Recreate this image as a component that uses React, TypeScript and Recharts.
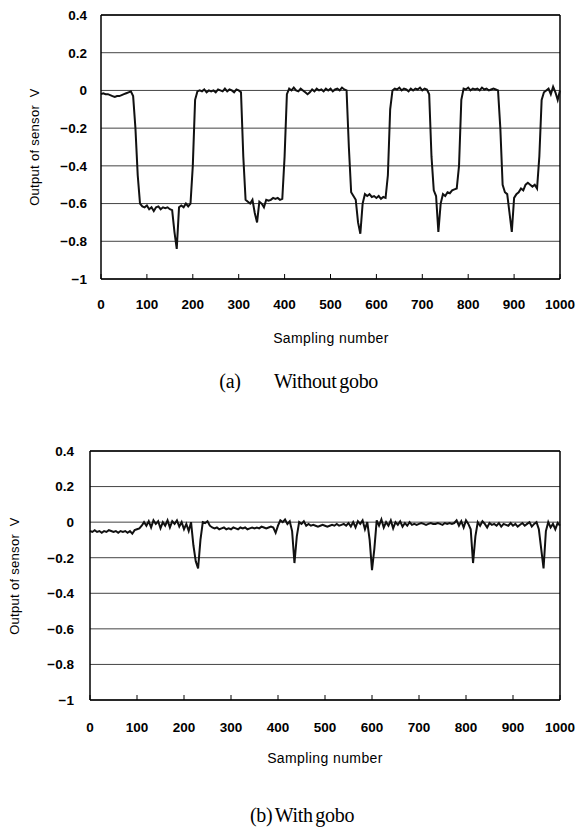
import React from "react";
import {
  LineChart, Line, XAxis, YAxis, CartesianGrid, ReferenceLine,
} from "recharts";

// sampling numbers (every 5th sample)
const samples = [
  0, 5, 10, 15, 20, 25, 30, 35, 40, 45, 50, 55, 60, 65, 70, 75, 80, 85, 90, 95,
  100, 105, 110, 115, 120, 125, 130, 135, 140, 145, 150, 155, 160, 165, 170, 175, 180, 185, 190, 195,
  200, 205, 210, 215, 220, 225, 230, 235, 240, 245, 250, 255, 260, 265, 270, 275, 280, 285, 290, 295,
  300, 305, 310, 315, 320, 325, 330, 335, 340, 345, 350, 355, 360, 365, 370, 375, 380, 385, 390, 395,
  400, 405, 410, 415, 420, 425, 430, 435, 440, 445, 450, 455, 460, 465, 470, 475, 480, 485, 490, 495,
  500, 505, 510, 515, 520, 525, 530, 535, 540, 545, 550, 555, 560, 565, 570, 575, 580, 585, 590, 595,
  600, 605, 610, 615, 620, 625, 630, 635, 640, 645, 650, 655, 660, 665, 670, 675, 680, 685, 690, 695,
  700, 705, 710, 715, 720, 725, 730, 735, 740, 745, 750, 755, 760, 765, 770, 775, 780, 785, 790, 795,
  800, 805, 810, 815, 820, 825, 830, 835, 840, 845, 850, 855, 860, 865, 870, 875, 880, 885, 890, 895,
  900, 905, 910, 915, 920, 925, 930, 935, 940, 945, 950, 955, 960, 965, 970, 975, 980, 985, 990, 995,
  1000,
];

// (a) without gobo
const withoutGobo = [
  -0.02, -0.015, -0.02, -0.02, -0.025, -0.03, -0.035, -0.03, -0.03, -0.025, -0.02, -0.015, -0.01, -0.005, -0.03, -0.2, -0.45, -0.6, -0.615, -0.62,
  -0.61, -0.63, -0.62, -0.64, -0.62, -0.615, -0.63, -0.62, -0.625, -0.62, -0.63, -0.635, -0.75, -0.84, -0.62, -0.61, -0.62, -0.6, -0.615, -0.6,
  -0.4, -0.05, -0.005, 0, -0.005, 0.005, -0.01, 0, -0.005, 0, -0.01, 0.005, 0, -0.005, 0.01, -0.005, 0.005, 0, -0.01, 0.005,
  0, -0.01, -0.35, -0.58, -0.59, -0.6, -0.58, -0.65, -0.7, -0.59, -0.6, -0.62, -0.58, -0.585, -0.58, -0.57, -0.575, -0.57, -0.58, -0.575,
  -0.35, -0.02, 0.01, 0, 0.015, 0, -0.005, 0.01, 0, -0.01, -0.02, -0.01, 0.005, -0.005, 0.01, 0, 0.005, -0.005, 0.01, 0,
  0.01, -0.005, 0.005, 0.01, 0, 0.015, 0.005, 0, -0.3, -0.54, -0.56, -0.58, -0.7, -0.76, -0.6, -0.55, -0.56, -0.55, -0.565, -0.56,
  -0.57, -0.56, -0.575, -0.565, -0.57, -0.45, -0.1, 0, 0.01, 0.005, 0.015, 0, 0.01, 0.005, -0.005, 0.01, 0, 0.01, 0.005, 0.015,
  0, 0.01, 0.005, -0.02, -0.35, -0.53, -0.56, -0.75, -0.6, -0.55, -0.56, -0.54, -0.545, -0.53, -0.525, -0.52, -0.4, -0.05, 0.01, 0.005,
  0.015, 0, 0.01, 0.005, 0.01, 0, 0.015, 0.005, 0.01, 0, 0.005, 0.01, 0.005, 0, -0.2, -0.5, -0.54, -0.55, -0.65, -0.75,
  -0.57, -0.55, -0.54, -0.52, -0.53, -0.5, -0.49, -0.5, -0.51, -0.5, -0.52, -0.35, -0.05, -0.01, 0, 0.01, -0.02, 0.02, -0.01, -0.05,
  0,
];

// (b) with gobo
const withGobo = [
  -0.05, -0.055, -0.045, -0.055, -0.05, -0.06, -0.05, -0.055, -0.045, -0.05, -0.055, -0.05, -0.06, -0.05, -0.055, -0.05, -0.06, -0.05, -0.065, -0.045,
  -0.04, -0.035, -0.02, 0, -0.02, 0.005, -0.03, 0.01, -0.01, 0.005, -0.035, 0, -0.02, 0.01, -0.03, 0.005, -0.01, 0.01, -0.025, 0,
  -0.04, -0.01, -0.05, 0, -0.13, -0.22, -0.26, -0.1, 0, -0.005, 0.005, -0.02, -0.03, -0.035, -0.03, -0.04, -0.035, -0.03, -0.04, -0.035,
  -0.04, -0.03, -0.035, -0.04, -0.03, -0.035, -0.03, -0.04, -0.035, -0.03, -0.035, -0.03, -0.035, -0.025, -0.03, -0.035, -0.03, -0.025, -0.03, -0.06,
  -0.02, 0.01, 0, 0.015, -0.01, 0.005, -0.05, -0.23, -0.08, 0, -0.01, 0.005, -0.02, -0.01, -0.02, -0.015, -0.02, -0.025, -0.02, -0.015,
  -0.02, -0.025, -0.02, -0.015, -0.02, -0.01, -0.02, -0.015, -0.01, -0.02, -0.005, -0.025, 0, -0.03, 0.005, -0.01, 0.01, -0.04, 0, -0.1,
  -0.27, -0.15, 0.01, -0.02, 0.015, -0.03, 0, -0.02, 0.01, -0.035, 0, -0.015, 0.005, -0.025, -0.005, -0.02, 0, -0.015, -0.01, -0.015,
  -0.01, -0.005, -0.01, -0.015, -0.01, -0.005, -0.01, -0.01, -0.005, -0.01, -0.015, -0.005, -0.01, -0.005, -0.01, -0.005, 0.01, -0.02, 0.005, -0.03,
  0.01, -0.01, -0.04, -0.23, -0.08, 0, -0.02, 0.005, -0.01, -0.03, -0.005, -0.015, -0.01, -0.02, -0.005, -0.025, -0.01, -0.015, -0.02, -0.005,
  -0.02, -0.01, -0.025, -0.015, -0.005, -0.02, -0.01, 0, -0.025, -0.01, 0, -0.04, -0.15, -0.26, -0.05, 0, -0.03, -0.01, -0.04, -0.005,
  -0.02,
];

const xTicks = [0, 100, 200, 300, 400, 500, 600, 700, 800, 900, 1000];
const yTicks = [-1, -0.8, -0.6, -0.4, -0.2, 0, 0.2, 0.4];
const yTickLabels = ["\u22121", "\u22120.8", "\u22120.6", "\u22120.4", "\u22120.2", "0", "0.2", "0.4"];

const tickStyle = {
  fill: "#000",
  fontSize: 13.5,
  fontWeight: "bold",
  fontFamily: "'Liberation Sans', Arial, sans-serif",
};

interface PanelProps {
  values: number[];
  top: number;
  height: number;
  marginTop: number;
  marginLeft: number;
  marginBottom: number;
  yTickMargin: number;
  xTickMargin: number;
}

function Panel({ values, top, height, marginTop, marginLeft, marginBottom, yTickMargin, xTickMargin }: PanelProps) {
  const rows = samples.map((s, i) => ({ s, v: values[i] }));
  return (
    <div style={{ position: "absolute", left: 0, top }}>
      <LineChart
        width={581}
        height={height}
        data={rows}
        margin={{ top: marginTop, right: 21, bottom: marginBottom, left: marginLeft }}
      >
        <CartesianGrid vertical={false} stroke="#444" strokeWidth={1} />
        <XAxis
          dataKey="s"
          type="number"
          domain={[0, 1000]}
          ticks={xTicks}
          interval={0}
          height={30}
          tickSize={-5}
          tickMargin={xTickMargin}
          tick={tickStyle}
          tickLine={{ stroke: "#000" }}
          axisLine={{ stroke: "#000", strokeWidth: 1.5 }}
        />
        <YAxis
          type="number"
          domain={[-1, 0.4]}
          ticks={yTicks}
          interval={0}
          width={40}
          tickLine={false}
          tickMargin={yTickMargin}
          tick={tickStyle}
          tickFormatter={(v: number) => yTickLabels[yTicks.findIndex((t) => Math.abs(t - v) < 1e-6)]}
          axisLine={{ stroke: "#000", strokeWidth: 1.5 }}
        />
        <ReferenceLine y={0.4} stroke="#000" strokeWidth={1.5} />
        <ReferenceLine x={1000} stroke="#000" strokeWidth={1.5} />
        <Line
          type="linear"
          dataKey="v"
          stroke="#111"
          strokeWidth={2}
          dot={false}
          isAnimationActive={false}
        />
      </LineChart>
    </div>
  );
}

const labelFont = "'Liberation Sans', Arial, sans-serif";
const captionFont = "'Liberation Serif', 'Times New Roman', serif";

function Centered({ x, y, children, style }: { x: number; y: number; children: React.ReactNode; style?: React.CSSProperties }) {
  return (
    <div
      style={{
        position: "absolute",
        left: x,
        top: y,
        transform: "translate(-50%, -50%)",
        whiteSpace: "pre",
        color: "#000",
        ...style,
      }}
    >
      {children}
    </div>
  );
}

export default function App() {
  const yLabel = { fontFamily: labelFont, fontSize: 13, letterSpacing: 0.3 };
  const xLabel = { fontFamily: labelFont, fontSize: 14, letterSpacing: 0.4 };
  const caption = { fontFamily: captionFont, fontSize: 20, letterSpacing: -0.3, wordSpacing: -2 };
  return (
    <div style={{ position: "absolute", left: 0, top: 0, width: 581, height: 827, background: "#fff" }}>
      <Panel values={withoutGobo} top={0} height={330} marginTop={15} marginLeft={61} marginBottom={21} yTickMargin={8} xTickMargin={25} />
      <Panel values={withGobo} top={400} height={350} marginTop={51} marginLeft={50} marginBottom={20} yTickMargin={10} xTickMargin={27} />

      <Centered x={34} y={147} style={{ ...yLabel, transform: "translate(-50%, -50%) rotate(-90deg)" }}>
        {"Output of sensor  V"}
      </Centered>
      <Centered x={331} y={338} style={xLabel}>Sampling number</Centered>
      <Centered x={230} y={381} style={caption}>(a)</Centered>
      <Centered x={326} y={381} style={caption}>Without gobo</Centered>

      <Centered x={14} y={576} style={{ ...yLabel, transform: "translate(-50%, -50%) rotate(-90deg)" }}>
        {"Output of sensor  V"}
      </Centered>
      <Centered x={325} y={758} style={xLabel}>Sampling number</Centered>
      <Centered x={302} y={815} style={caption}>(b) With gobo</Centered>
    </div>
  );
}
